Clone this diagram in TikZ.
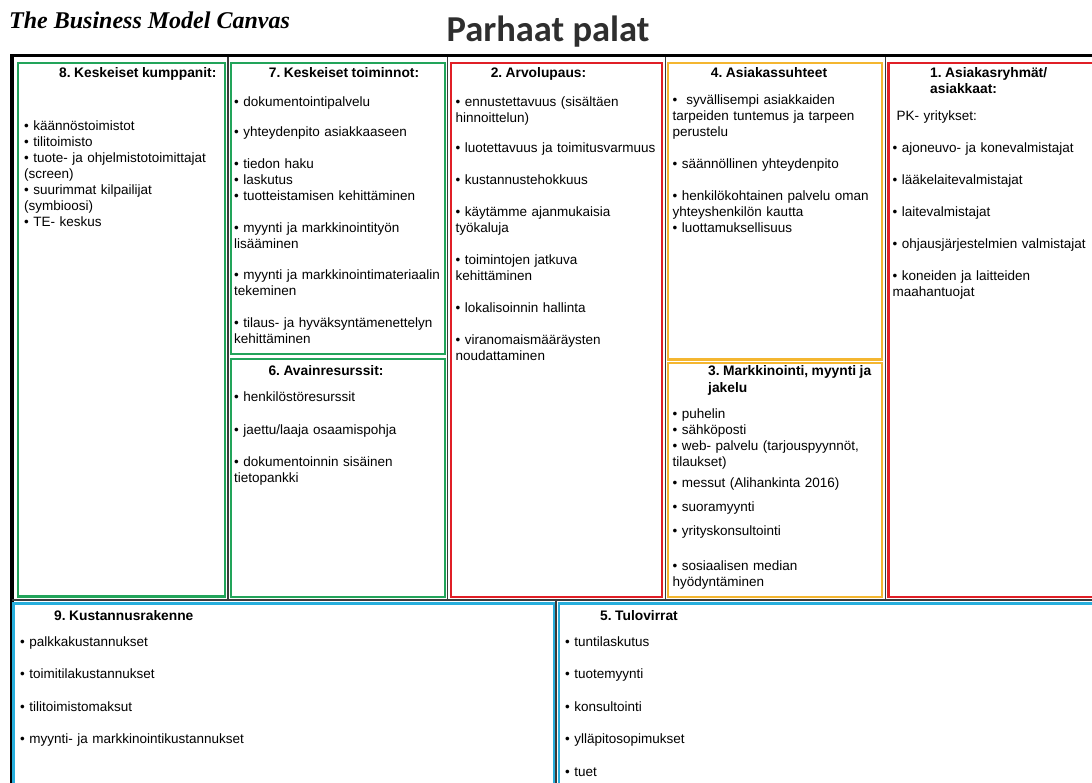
\documentclass[tikz,border=0pt]{standalone}
\usepackage{fontspec}
\setmainfont[WordSpace=0.9]{Liberation Sans}
\newfontfamily\titlefont{Liberation Serif}
\newfontfamily\wordartfont{Carlito}
\definecolor{bmcgreen}{HTML}{22A45A}
\definecolor{bmcred}{HTML}{E01F26}
\definecolor{bmcyellow}{HTML}{F4B630}
\definecolor{bmccyan}{HTML}{27AEDC}
\definecolor{framegray}{HTML}{3A3A3A}
\definecolor{wordartgray}{HTML}{2E2E2E}
\frenchspacing
\begin{document}
\begin{tikzpicture}[x=1pt,y=-1pt,
  cell/.style={line width=2.4pt},
  framerule/.style={framegray, line width=1.4pt},
  head/.style={anchor=base west, inner sep=0pt, font=\fontsize{13.8}{16}\selectfont\bfseries},
  headc/.style={head, anchor=base},
  body/.style={anchor=north west, inner sep=0pt, text width=260pt, align=left,
    font=\fontsize{13.5}{16}\selectfont, execute at begin node=\noindent\strut},
]
\useasboundingbox (0,0) rectangle (1092,783);
\fill[white] (0,0) rectangle (1092,783);

% page titles
\node[anchor=base west, inner sep=0pt, font=\titlefont\fontsize{24}{28}\selectfont\bfseries\itshape]
  (canvastitle) at (9,29) {The Business Model Canvas};
\node[anchor=base, inner sep=0pt, font=\wordartfont\fontsize{36.5}{40}\selectfont\bfseries, text=wordartgray]
  (projecttitle) at (548,42) {Parhaat palat};

% outer frame and dividing rules
\draw[line width=3.5pt] (12,800) -- (12,55.5) -- (1100,55.5);
\draw[framerule] (228,57) -- (228,600);
\draw[framerule] (447.5,57) -- (447.5,600);
\draw[framerule] (665.5,57) -- (665.5,600);
\draw[framerule] (885.5,57) -- (885.5,600);
\draw[framerule] (12,600) -- (1100,600);
\draw[framerule] (556,600) -- (556,800);

% coloured cells
\draw[cell, bmcgreen]  (18,63)  rectangle (225,596.5);
\draw[cell, bmcgreen]  (231,63) rectangle (445,354);
\draw[cell, bmcgreen]  (231,359) rectangle (445,597);
\draw[cell, bmcred]    (451,63) rectangle (662,597);
\draw[cell, bmcyellow] (668,63) rectangle (882,359.5);
\draw[cell, bmcyellow] (668,363) rectangle (882,597);
\draw[cell, bmcred]    (888.5,63) rectangle (1100,597);
\draw[cell, bmccyan]   (13.5,603.5) rectangle (554,800);
\draw[cell, bmccyan]   (559,603.5) rectangle (1100,800);

% 8. Key partners
\node[head] (h8) at (59,78) {8. Keskeiset kumppanit:};
\node[body] (t8) at (24,119.3) {%
• käännöstoimistot\\
• tilitoimisto\\
• tuote- ja ohjelmistotoimittajat\\
(screen)\\
• suurimmat kilpailijat\\
(symbioosi)\\
• TE- keskus};

% 7. Key activities
\node[headc] (h7) at (344,78) {7. Keskeiset toiminnot:};
\node[body] (t7) at (234,94.8) {%
• dokumentointipalvelu\\[14pt]
• yhteydenpito asiakkaaseen\\[16pt]
• tiedon haku\\
• laskutus\\
• tuotteistamisen kehittäminen\\[16pt]
• myynti ja markkinointityön\\
lisääminen\\[15pt]
• myynti ja markkinointimateriaalin\\
tekeminen\\[16pt]
• tilaus- ja hyväksyntämenettelyn\\
kehittäminen};

% 6. Key resources
\node[headc] (h6) at (326,375.5) {6. Avainresurssit:};
\node[body] (t6) at (234,389.8) {%
• henkilöstöresurssit\\[17pt]
• jaettu/laaja osaamispohja\\[16pt]
• dokumentoinnin sisäinen\\
tietopankki};

% 2. Value proposition
\node[headc] (h2) at (538.5,78) {2. Arvolupaus:};
\node[body] (t2) at (455.5,94.8) {%
• ennustettavuus (sisältäen\\
hinnoittelun)\\[14.5pt]
• luotettavuus ja toimitusvarmuus\\[16pt]
• kustannustehokkuus\\[16pt]
• käytämme ajanmukaisia\\
työkaluja\\[16pt]
• toimintojen jatkuva\\
kehittäminen\\[16pt]
• lokalisoinnin hallinta\\[16pt]
• viranomaismääräysten\\
noudattaminen};

% 4. Customer relationships
\node[headc] (h4) at (769,78) {4. Asiakassuhteet};
\node[body] (t4) at (672.5,93.3) {%
•\ \ syvällisempi asiakkaiden\\
tarpeiden tuntemus ja tarpeen\\
perustelu\\[16pt]
• säännöllinen yhteydenpito\\[16pt]
• henkilökohtainen palvelu oman\\
yhteyshenkilön kautta\\
• luottamuksellisuus};

% 3. Channels
\node[head] (h3a) at (708,375.5) {3. Markkinointi, myynti ja};
\node[head] (h3b) at (708,392) {jakelu};
\node[body] (t3) at (672.5,406.8) {%
• puhelin\\
• sähköposti\\
• web- palvelu (tarjouspyynnöt,\\
tilaukset)\\[5.5pt]
• messut (Alihankinta 2016)\\[7.5pt]
• suoramyynti\\[8pt]
• yrityskonsultointi\\[19.5pt]
• sosiaalisen median\\
hyödyntäminen};

% 1. Customer segments
\node[head] (h1a) at (930,78) {1. Asiakasryhmät/};
\node[head] (h1b) at (930,94) {asiakkaat:};
\node[body] (t1) at (892.5,109.3) {%
\hspace*{4pt}PK- yritykset:\\[15.5pt]
• ajoneuvo- ja konevalmistajat\\[16pt]
• lääkelaitevalmistajat\\[16pt]
• laitevalmistajat\\[16pt]
• ohjausjärjestelmien valmistajat\\[16pt]
• koneiden ja laitteiden\\
maahantuojat};

% 9. Cost structure
\node[head] (h9) at (54,620) {9. Kustannusrakenne};
\node[body] (t9) at (20,635) {%
• palkkakustannukset\\[16.5pt]
• toimitilakustannukset\\[16.5pt]
• tilitoimistomaksut\\[16.5pt]
• myynti- ja markkinointikustannukset};

% 5. Revenue streams
\node[head] (h5) at (600,620) {5. Tulovirrat};
\node[body] (t5) at (565,635) {%
• tuntilaskutus\\[16.5pt]
• tuotemyynti\\[16.5pt]
• konsultointi\\[16.5pt]
• ylläpitosopimukset\\[16.5pt]
• tuet};
\end{tikzpicture}
\end{document}
